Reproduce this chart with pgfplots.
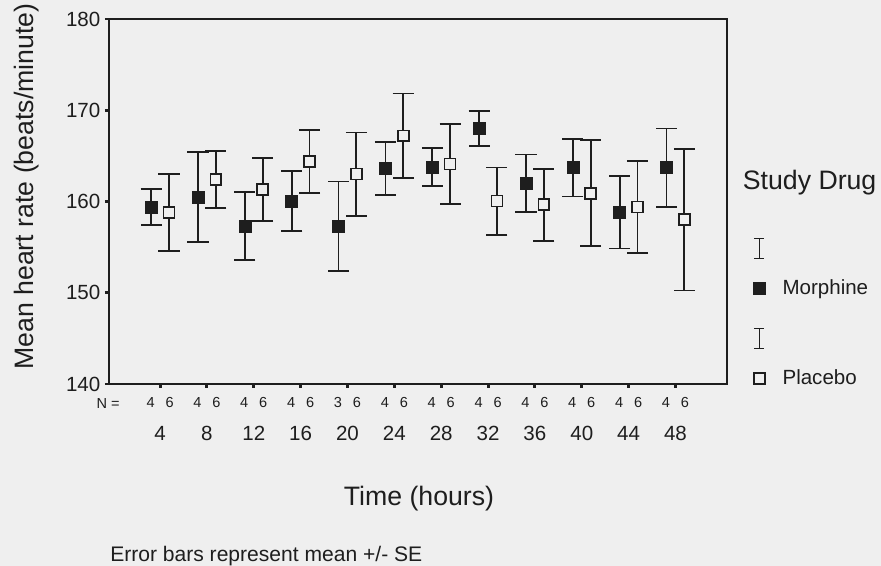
\documentclass[border=0pt]{standalone}
\usepackage{fontspec}
\setmainfont{Liberation Sans}
\usepackage{pgfplots}
\usepackage{pgfplotstable}
\pgfplotsset{compat=1.18}
\definecolor{bgc}{HTML}{EFEFEF}
\definecolor{ink}{HTML}{1E1E1E}

\newcommand\labfont{\fontsize{20}{24}\selectfont}
\newcommand\tickfont{\fontsize{15.4}{18}\selectfont}
\newcommand\nfont{\fontsize{10.9}{13}\selectfont}

% x = hour index, offset left/right of the tick; e = SE
\pgfplotstableread{
x      y      e
-0.19  159.4  1.98
0.81   160.5  4.93
1.81   157.3  3.75
2.81   160.05 3.25
3.81   157.3  4.90
4.81   163.6  2.90
5.81   163.8  2.10
6.81   168.0  1.90
7.81   162.0  3.15
8.81   163.7  3.15
9.81   158.8  3.95
10.81  163.7  4.30
}\morphine

\pgfplotstableread{
x      y      e
0.19   158.8  4.20
1.19   162.4  3.15
2.19   161.3  3.48
3.19   164.4  3.45
4.19   163.0  4.55
5.19   167.2  4.63
6.19   164.1  4.40
7.19   160.05 3.68
8.19   159.65 3.95
9.19   160.9  5.80
10.19  159.4  5.05
11.19  158.0  7.75
}\placebo

\begin{document}
\begin{tikzpicture}
\useasboundingbox (0,0) rectangle (660.75pt,424.5pt);
\fill[bgc] (0,0) rectangle (660.75pt,424.5pt);
\begin{axis}[
  at={(81.75pt,136.5pt)}, anchor=south west,
  scale only axis, width=463.5pt, height=273.75pt,
  xmin=-1.09, xmax=12.1, ymin=140, ymax=180,
  axis line style={ink, line width=1.3pt},
  tick pos=left, tick align=outside, major tick length=3pt,
  every tick/.style={ink, line width=2.2pt},
  ytick={140,150,...,180},
  yticklabel style={font=\tickfont, text=ink},
  /pgf/number format/assume math mode=true,
  xtick={0,...,11},
  xticklabels={{4\hspace{8.2pt}6},{4\hspace{8.2pt}6},{4\hspace{8.2pt}6},{4\hspace{8.2pt}6},{3\hspace{8.2pt}6},{4\hspace{8.2pt}6},{4\hspace{8.2pt}6},{4\hspace{8.2pt}6},{4\hspace{8.2pt}6},{4\hspace{8.2pt}6},{4\hspace{8.2pt}6},{4\hspace{8.2pt}6}},
  xticklabel style={font=\nfont, text=ink, anchor=base, yshift=-14.6pt},
  extra x ticks={0,...,11},
  extra x tick labels={4,8,12,16,20,24,28,32,36,40,44,48},
  extra x tick style={xticklabel style={font=\tickfont, yshift=-24.8pt}},
  xlabel={Time (hours)},
  xlabel style={font=\labfont, text=ink, at={(axis description cs:0.5016,-0.334)}, anchor=base},
  ylabel={Mean heart rate (beats/minute)},
  ylabel style={font=\labfont, text=ink, at={(axis description cs:-0.1327,0.541)}, anchor=center},
  legend style={draw=none, fill=none, font=\tickfont, text=ink,
    at={(axis description cs:1.042,0.1385)}, anchor=west, xshift=-3pt,
    row sep=50.75pt, column sep=11pt},
  legend cell align=left,
  legend image code/.code={
    \draw[overlay, ink, line width=1pt]
      (0pt,22.5pt) -- (0pt,37.5pt)
      (-3.75pt,22.5pt) -- (3.75pt,22.5pt)
      (-3.75pt,37.5pt) -- (3.75pt,37.5pt);
    \draw[#1] plot coordinates {(0pt,0pt)};
  },
]
\addplot[only marks, mark=square*, mark size=4.5pt,
  mark options={fill=ink, draw=ink, line width=0.4pt},
  error bars/.cd, y dir=both, y explicit,
  error bar style={ink, line width=1.35pt},
  error mark options={rotate=90, mark size=7.9pt, line width=1.35pt, ink}]
  table[x=x, y=y, y error=e] {\morphine};
\addlegendentry{Morphine}

\addplot[only marks, mark=square*, mark size=4.1pt,
  mark options={fill=bgc, draw=ink, line width=1.2pt},
  error bars/.cd, y dir=both, y explicit,
  error bar style={ink, line width=1.35pt},
  error mark options={rotate=90, mark size=7.9pt, line width=1.35pt, ink}]
  table[x=x, y=y, y error=e] {\placebo};
\addlegendentry{Placebo}
\end{axis}
\node[anchor=base west, inner sep=0pt, font=\labfont, text=ink] at (557pt,282.5pt) {Study Drug};
\node[anchor=base east, inner sep=0pt, font=\nfont, text=ink] at (90pt,118.1pt) {N =};
\node[anchor=base west, inner sep=0pt, font=\fontsize{15.8}{18}\selectfont, text=ink] at (82.5pt,3.4pt) {Error bars represent mean +/- SE};
\end{tikzpicture}
\end{document}
